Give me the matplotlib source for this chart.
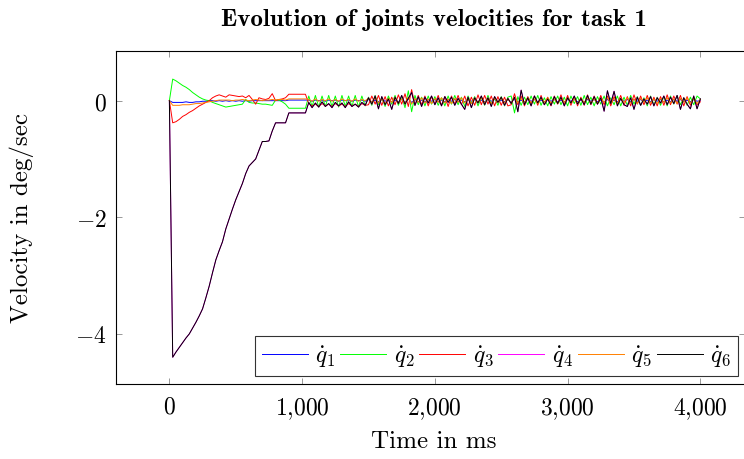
import numpy as np
import matplotlib
matplotlib.use("Agg")
import matplotlib.pyplot as plt

# --- Data (in 1/100 deg/sec, one sample every 25 ms) ---
sample_step_ms = 25

q1 = [0, -3, -3, -3, -3, -2, -3, -3, -2, -2, -1,
      -1, 0, 0, -1, 0, -1, 0, -1, 0, -1,
      0, -1, 0, -1, 0, 0, 0, 0, 0, 0,
      0, 0, 0, 0, 0, 1, 1, 1, 1, 1, 1,
      1, -1, 1, 0, 1, -1, 1, 0, 1, -1, 1, 0, 1, -1, 1, 0, 1, -1,
      2, -2, 1, -2, 2, -1, 2, -2, 1, -2,
      2, -3, 3, -3, 2, -2, 1, -2, 2, -1,
      2, -2, 1, -2, 2, -1, 2, -2, 1, -2,
      2, -1, 2, -2, 1, -2, 2, -1, 2, -2,
      1, -2, 2, -3, 3, -2, 1, -2, 2, -1,
      2, -2, 1, -2, 2, -1, 2, -2, 1, -2,
      2, -1, 2, -2, 1, -2, 2, -1, 2, -2,
      1, -2, 2, -2, 1, -2, 2, -1, 2, -2,
      2, -1, 2, -2, 1, -2, 2, -1, 2, -2,
      1, -2, 2, -1, 2, -2, 1, -2, 2, -1,
      0]

q2 = [0, 37, 34, 30, 26, 23, 19, 14, 10, 6, 3,
      1, 0, -3, -5, -7, -9, -11, -10, -9, -8,
      -7, -6, 2, -3, -4, -4, -5, -6, -6, -7,
      -8, 1, 1, -2, -6, -13, -13, -13, -13, -13, -13,
      8, -10, 9, -11, 8, -10, 9, -10, 8, -11, 9, -10, 8, -10, 9, -11, 8, -9,
      6, -8, 9, -7, 5, -10, 8, -6, 9, -8,
      7, -12, 17, -19, 9, -7, 6, -9, 8, -6,
      7, -8, 5, -9, 8, -6, 9, -7, 6, -10,
      8, -5, 7, -9, 6, -8, 9, -6, 5, -8,
      7, -9, 6, 8, -21, 7, -8, 6, -7, 8,
      -6, 9, -8, 5, -9, 7, -6, 8, -7, 6,
      -9, 8, -5, 7, -8, 9, -7, 6, -9, 7,
      -6, 8, -9, 5, -7, 8, -9, 6, -8, 9,
      -6, 7, -8, 5, -9, 8, -7, 6, -8, 7,
      -9, 8, -6, 9, -7, 5, -8, 6, -7, 8,
      3]

q3 = [0, -38, -36, -32, -27, -24, -20, -17, -13, -9, -6,
      -3, 0, 5, 8, 10, 8, 6, 10, 9, 8,
      7, 8, 5, 9, 2, -6, 5, 3, 2, 4,
      12, 0, 2, 3, 5, 11, 11, 11, 11, 11, 11,
      -5, -9, -6, -10, -5, -9, -6, -10, -5, -9, -6, -10, -5, -9, -6, -10, -5, -8,
      -7, 8, -6, 9, -8, 7, -9, 6, -7, 10,
      -6, 12, -10, 19, -8, 9, -7, 8, -9, 7,
      -6, 9, -8, 7, -10, 8, -6, 9, -7, 8,
      -9, 6, -8, 10, -7, 9, -6, 8, -9, 7,
      -8, 6, -9, -7, 12, -7, 8, -9, 7, -6,
      8, -8, 9, -7, 6, -9, 8, -6, 10, -7,
      9, -8, 7, -9, 6, -8, 10, -7, 8, -6,
      9, -7, 8, -9, 7, -6, 9, -8, 7, -9,
      10, -6, 8, -7, 9, -8, 6, -9, 7, -8,
      10, -7, 8, -6, 9, -9, 7, -8, 6, -7,
      -2]

q5 = [0, -8, -8, -8, -7, -7, -7, -6, -5, -5, -4,
      -3, -2, -1, 0, 1, 1, 1, 1, 0, 1,
      1, 2, 1, 0, 1, 2, 1, 0, 1, 1,
      2, 1, 2, 2, 1, 3, 3, 3, 3, 3, 3,
      2, -1, 3, -1, 2, 0, 3, -1, 2, -1, 3, 0, 2, -1, 3, -1, 2, 0,
      4, -3, 5, -4, 3, -5, 4, -3, 5, -4,
      3, -5, 6, -6, 4, -3, 5, -4, 3, -5,
      4, -3, 5, -4, 3, -5, 4, -3, 5, -4,
      3, -5, 4, -3, 5, -4, 3, -5, 4, -3,
      5, -4, 3, -5, 6, -4, 4, -3, 5, -4,
      3, -5, 4, -3, 5, -4, 3, -5, 4, -3,
      5, -4, 3, -5, 4, -3, 5, -4, 3, -5,
      4, -3, 5, -4, 3, -5, 4, -3, 5, -4,
      3, -5, 4, -3, 5, -4, 3, -5, 4, -3,
      5, -4, 3, -5, 4, -3, 5, -4, 3, -5,
      2]

q6 = [0, -440, -431, -423, -415, -407, -400, -390, -380, -369, -357,
      -338, -318, -295, -273, -257, -242, -220, -203, -186, -170,
      -156, -142, -125, -112, -106, -100, -85, -70, -70, -69,
      -52, -38, -38, -38, -38, -21, -21, -21, -21, -21, -21,
      -3, -12, -4, -11, -2, -10, -5, -12, -3, -9, -4, -12, -2, -10, -6, -11, -3, -8,
      5, -6, 8, -14, 7, -7, 3, -15, 6, -5,
      9, -6, 4, 14, -8, 7, -10, 6, -4, 8,
      -7, 5, -9, 7, -3, 6, -8, 4, -6, -15,
      6, -12, 5, -4, 8, -7, 5, -10, 7, -3,
      6, -8, 4, -5, 6, -19, 18, -7, 5, -9,
      8, -4, 6, -7, 3, -8, 7, -5, 6, -9,
      5, -4, 8, -6, 4, -7, 9, -6, 7, -6,
      5, -18, 17, -5, 16, -9, 4, -7, -10, 5,
      -15, 6, -8, 3, -6, 7, -9, 5, -4, 8,
      -7, 6, -5, 9, -15, 5, -6, -14, 8, -14,
      3]

# joint 4 lies right under joint 6 over the whole run
q4 = list(q6)

series = [q1, q2, q3, q4, q5, q6]
labels = [r'$\dot{q}_1$', r'$\dot{q}_2$', r'$\dot{q}_3$',
          r'$\dot{q}_4$', r'$\dot{q}_5$', r'$\dot{q}_6$']
colors = ['#0000ff', '#00ff00', '#ff0000', '#ff00ff', '#ff8000', '#000000']

x_ticks = [0, 1000, 2000, 3000, 4000]
x_tick_labels = ['$0$', '$1{,}000$', '$2{,}000$', '$3{,}000$', '$4{,}000$']
y_ticks = [-4, -2, 0]
y_tick_labels = ['$-4$', '$-2$', '$0$']

# --- Style: LaTeX / pgfplots look ---
plt.rcParams['font.family'] = 'serif'
plt.rcParams['font.serif'] = ['cmr10']
plt.rcParams['mathtext.fontset'] = 'cm'
plt.rcParams['axes.formatter.use_mathtext'] = True
plt.rcParams['axes.unicode_minus'] = False

fig = plt.figure(figsize=(7.44, 4.6), dpi=100)
ax = fig.add_axes([0.1563, 0.1624, 0.8457, 0.7246])

for values, label, color in zip(series, labels, colors):
    t = np.arange(len(values)) * sample_step_ms
    ax.plot(t, np.array(values) / 100.0, color=color, linewidth=0.7, label=label)

ax.set_xlim(-400, 4340)
ax.set_ylim(-4.864, 0.852)

ax.set_xticks(x_ticks, labels=x_tick_labels)
ax.set_yticks(y_ticks, labels=y_tick_labels)
ax.tick_params(direction='in', top=True, right=True, length=4, width=0.6,
               color='#888888', labelsize=17)
ax.tick_params(axis='x', pad=8)
ax.tick_params(axis='y', pad=7)
for spine in ax.spines.values():
    spine.set_linewidth(0.8)
    spine.set_color('black')

fig.text(434 / 744, 1 - 20 / 460, 'Evolution of joints velocities for task 1',
         fontfamily='cmb10', fontsize=18, ha='center', va='center')
fig.text(434 / 744, 1 - 442 / 460, 'Time in ms', fontsize=18,
         ha='center', va='center')
fig.text(22 / 744, 1 - 218 / 460, 'Velocity in deg/sec', fontsize=18,
         ha='center', va='center', rotation=90)

leg = ax.legend(loc='lower left', bbox_to_anchor=(255 / 744, 1 - 377 / 460),
                bbox_transform=fig.transFigure, ncol=6, fontsize=17,
                frameon=True, fancybox=False, borderaxespad=0,
                handlelength=1.95, handletextpad=0.3, columnspacing=0.2,
                borderpad=0.3)
leg.get_frame().set_edgecolor('black')
leg.get_frame().set_linewidth(0.8)

fig.savefig('out.png', dpi=100)
